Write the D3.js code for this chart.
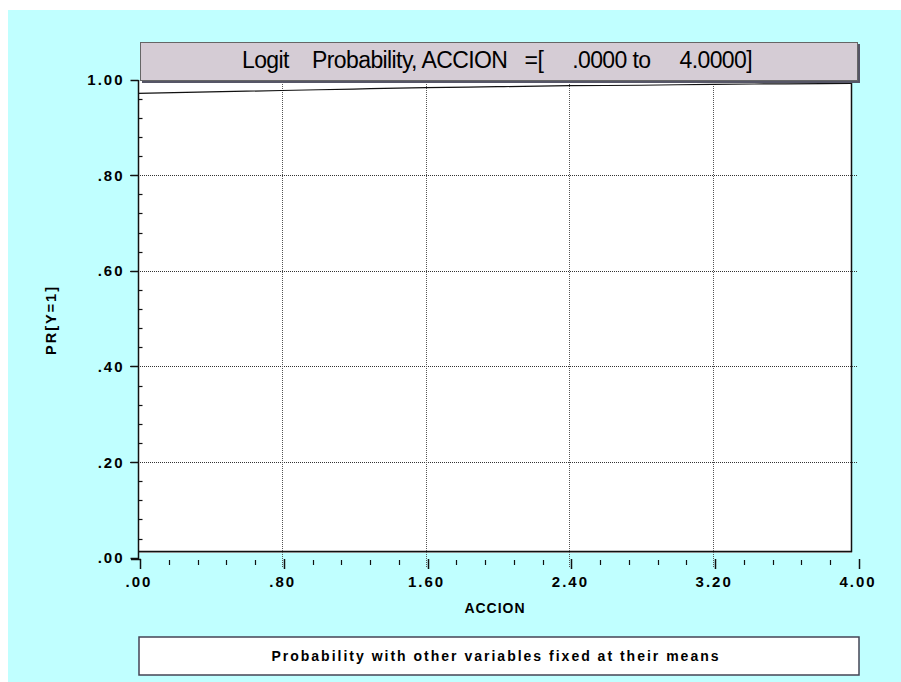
<!DOCTYPE html>
<html>
<head>
<meta charset="utf-8">
<script src="https://cdn.jsdelivr.net/npm/d3@7"></script>
<style>
  body { margin: 0; background: #fff; }
  svg { display: block; }
  text { font-family: Arial, "Liberation Sans", sans-serif; }
</style>
</head>
<body>
<div id="chart"></div>
<script>
// data
const accion = [0, 0.4, 0.8, 1.2, 1.6, 2.0, 2.4, 2.8, 3.2, 3.6, 4.0];
const prob = [0.971, 0.974, 0.977, 0.980, 0.983, 0.985, 0.987, 0.988, 0.990, 0.991, 0.992];
const xTicks = [0, 0.8, 1.6, 2.4, 3.2, 4.0];
const xTickLabels = [".00", ".80", "1.60", "2.40", "3.20", "4.00"];
const yTicks = [0, 0.2, 0.4, 0.6, 0.8, 1.0];
const yTickLabels = [".00", ".20", ".40", ".60", ".80", "1.00"];
const titleText = "Logit    Probability, ACCION   =[     .0000 to     4.0000]";
const footerText = "Probability with other variables fixed at their means";

const W = 901, H = 682;
const plot = { left: 138, right: 851, top: 81, bottom: 551 };

const svg = d3.select("#chart").append("svg")
    .attr("width", W)
    .attr("height", H);

// background
svg.append("rect").attr("x", 8).attr("y", 10).attr("width", W - 8).attr("height", H - 10)
    .attr("fill", "#c0ffff");

// scales
const x = d3.scaleLinear().domain([0, 4]).range([138, 857]);
const y = d3.scaleLinear().domain([0, 1]).range([557.7, 79.5]);

// plot area
svg.append("rect")
    .attr("x", plot.left).attr("y", plot.top)
    .attr("width", plot.right - plot.left).attr("height", plot.bottom - plot.top)
    .attr("fill", "#fff");
svg.append("line").attr("x1", plot.left).attr("x2", plot.right + 1)
    .attr("y1", plot.bottom + 1.5).attr("y2", plot.bottom + 1.5)
    .attr("stroke", "#bbb").attr("stroke-width", 1);
svg.append("path")
    .attr("d", `M${plot.right + 0.5},${plot.top} V${plot.bottom + 0.5} H${plot.left}`)
    .attr("fill", "none").attr("stroke", "#111").attr("stroke-width", 1.5);

// grid lines
svg.append("g").selectAll("line")
    .data(yTicks.filter(d => d > 0 && d < 1))
    .join("line")
    .attr("x1", 130).attr("x2", 857)
    .attr("y1", d => Math.round(y(d)) + 0.5).attr("y2", d => Math.round(y(d)) + 0.5)
    .attr("stroke", "#333").attr("stroke-dasharray", "1,1");
svg.append("g").selectAll("line")
    .data(xTicks.filter(d => d > 0 && d < 4))
    .join("line")
    .attr("x1", d => Math.round(x(d)) + 0.5).attr("x2", d => Math.round(x(d)) + 0.5)
    .attr("y1", 82).attr("y2", 567)
    .attr("stroke", "#555").attr("stroke-dasharray", "1,1");

// probability line
svg.append("clipPath").attr("id", "clip").append("rect")
    .attr("x", plot.left).attr("y", plot.top)
    .attr("width", plot.right - plot.left).attr("height", plot.bottom - plot.top);
svg.append("path")
    .datum(accion.map((a, i) => [a, prob[i]]))
    .attr("clip-path", "url(#clip)")
    .attr("fill", "none")
    .attr("stroke", "#111")
    .attr("stroke-width", 1.2)
    .attr("d", d3.line().x(d => x(d[0])).y(d => y(d[1])).curve(d3.curveMonotoneX));

// y axis
const yAxis = svg.append("g").attr("transform", "translate(138.5,0)");
yAxis.append("line").attr("y1", 80).attr("y2", 560).attr("stroke", "#111").attr("stroke-width", 1.5);
yAxis.selectAll(".minor")
    .data(d3.range(0, 1.0001, 0.04).filter(v => Math.abs(v * 5 - Math.round(v * 5)) > 1e-6))
    .join("line")
    .attr("x1", 0).attr("x2", 4)
    .attr("y1", d => Math.round(y(d)) + 0.5).attr("y2", d => Math.round(y(d)) + 0.5)
    .attr("stroke", "#111").attr("stroke-width", 1.2);
yAxis.selectAll(".major")
    .data(yTicks)
    .join("line")
    .attr("x1", -8).attr("x2", 0)
    .attr("y1", d => Math.round(y(d)) + 0.5).attr("y2", d => Math.round(y(d)) + 0.5)
    .attr("stroke", "#111").attr("stroke-width", 1.5);
yAxis.selectAll("text")
    .data(yTicks)
    .join("text")
    .attr("x", -14).attr("y", d => y(d) + 5.5)
    .attr("text-anchor", "end")
    .attr("font-size", 15).attr("font-weight", "bold").attr("letter-spacing", 2)
    .text((d, i) => yTickLabels[i]);

// x axis ticks (below the plot)
const xAxis = svg.append("g").attr("transform", "translate(2,0)");
xAxis.selectAll(".minor")
    .data(d3.range(0, 4.0001, 0.16).filter(v => Math.abs(v / 0.8 - Math.round(v / 0.8)) > 1e-6))
    .join("line")
    .attr("x1", d => Math.round(x(d)) + 0.5).attr("x2", d => Math.round(x(d)) + 0.5)
    .attr("y1", 560).attr("y2", 565)
    .attr("stroke", "#111").attr("stroke-width", 1.2);
xAxis.selectAll(".major")
    .data(xTicks)
    .join("line")
    .attr("x1", d => Math.round(x(d)) + 0.5).attr("x2", d => Math.round(x(d)) + 0.5)
    .attr("y1", 559).attr("y2", 569)
    .attr("stroke", "#111").attr("stroke-width", 1.5);
svg.append("line").attr("x1", 131).attr("x2", 141).attr("y1", 559.5).attr("y2", 559.5)
    .attr("stroke", "#111").attr("stroke-width", 1.5);
svg.append("g").selectAll("text")
    .data(xTicks)
    .join("text")
    .attr("x", d => x(d) + 1).attr("y", 587)
    .attr("text-anchor", "middle")
    .attr("font-size", 15).attr("font-weight", "bold").attr("letter-spacing", 2)
    .text((d, i) => xTickLabels[i]);

// axis titles
svg.append("text")
    .attr("x", 495).attr("y", 613)
    .attr("text-anchor", "middle")
    .attr("font-size", 14).attr("font-weight", "bold").attr("letter-spacing", 1)
    .text("ACCION");
svg.append("text")
    .attr("transform", "translate(56,320) rotate(-90)")
    .attr("text-anchor", "middle")
    .attr("font-size", 14.5).attr("font-weight", "bold").attr("letter-spacing", 2)
    .text("PR[Y=1]");

// title box
svg.append("rect").attr("x", 142).attr("y", 44).attr("width", 718).attr("height", 39)
    .attr("fill", "#556");
svg.append("rect").attr("x", 140.5).attr("y", 42.5).attr("width", 717).attr("height", 38)
    .attr("fill", "#d5ccd5").attr("stroke", "#666").attr("stroke-width", 1);
svg.append("text")
    .attr("x", 497).attr("y", 68)
    .attr("text-anchor", "middle")
    .attr("font-size", 23).attr("letter-spacing", -0.6)
    .style("white-space", "pre")
    .text(titleText);

// footer box
svg.append("rect").attr("x", 139).attr("y", 637).attr("width", 720).attr("height", 38)
    .attr("fill", "#fff").attr("stroke", "#445").attr("stroke-width", 1.5);
svg.append("text")
    .attr("x", 496).attr("y", 661)
    .attr("text-anchor", "middle")
    .attr("font-size", 14).attr("font-weight", "bold").attr("letter-spacing", 2)
    .text(footerText);
</script>
</body>
</html>
